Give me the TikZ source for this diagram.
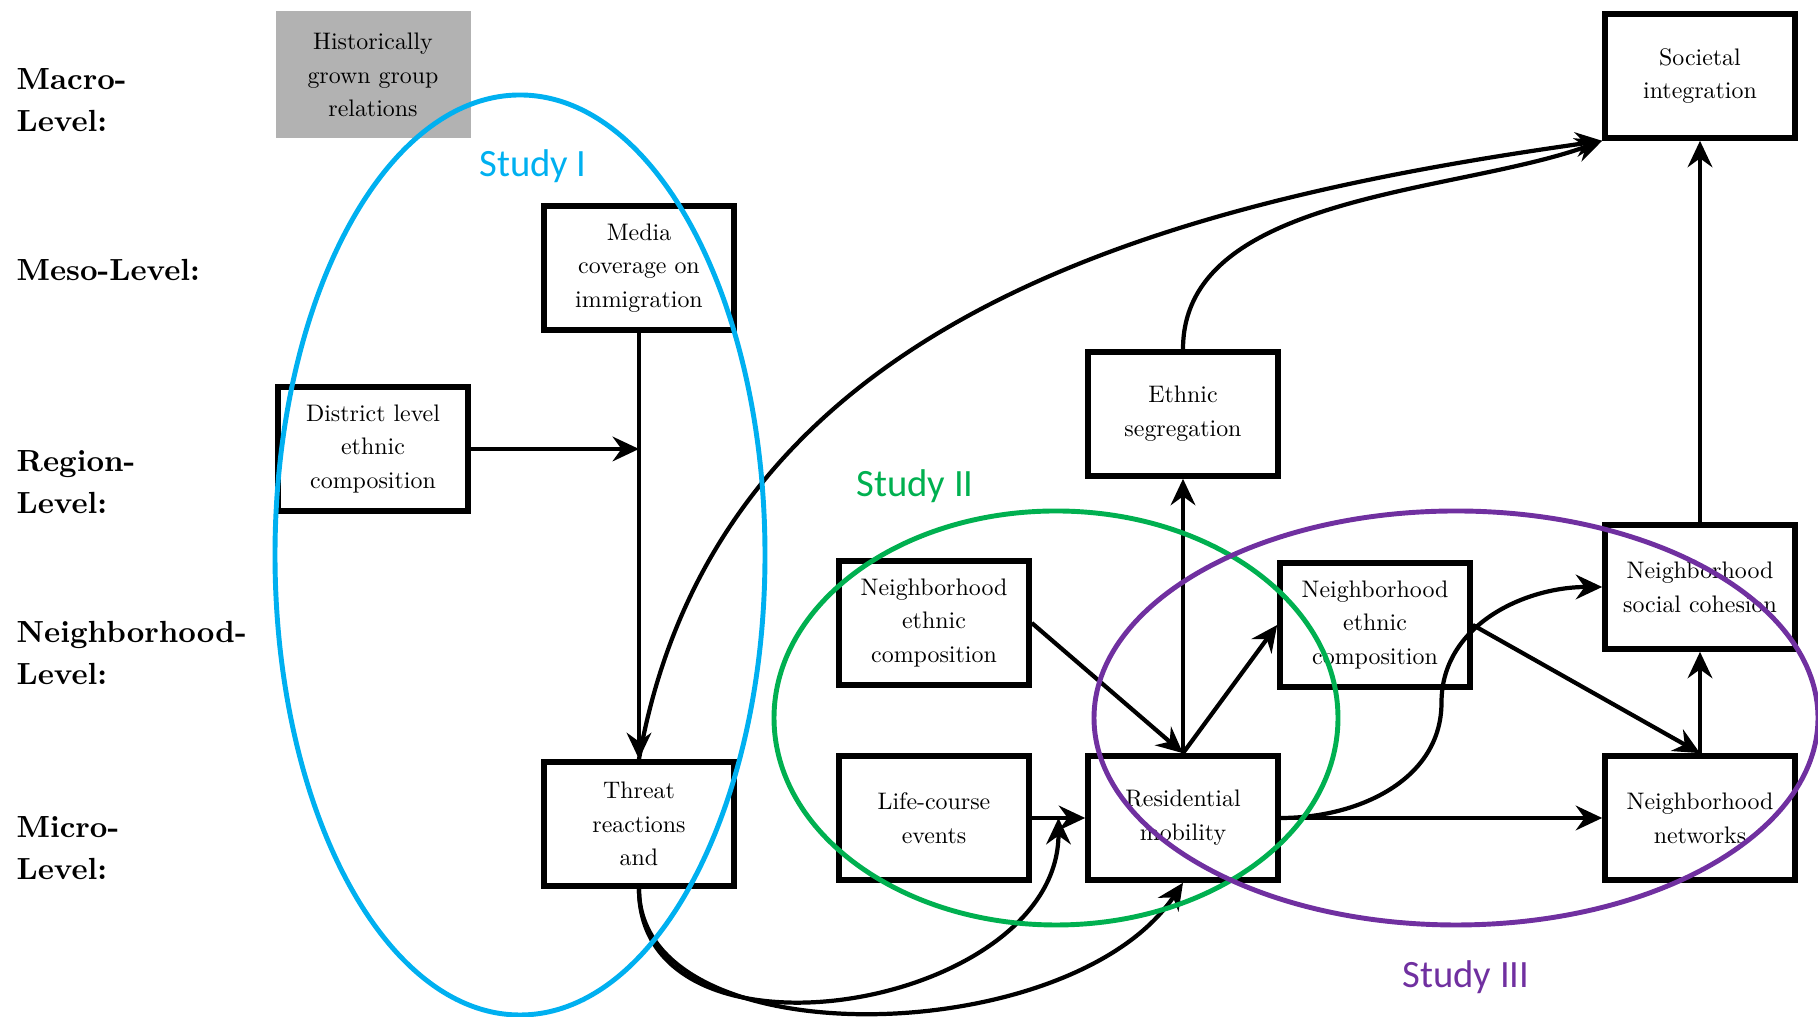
\documentclass[tikz,border=0pt]{standalone}
\usepackage{fontspec}
\newfontfamily\studyfont{Carlito}
\newfontfamily\boxfont{lmroman10-regular}[Extension=.otf]
\newfontfamily\levelfont{lmroman10-bold}[Extension=.otf]
\usetikzlibrary{arrows.meta,calc}

\definecolor{studyblue}{RGB}{0,176,240}
\definecolor{studygreen}{RGB}{0,176,80}
\definecolor{studypurple}{RGB}{112,48,160}

\begin{document}
\begin{tikzpicture}[
  box/.style={draw,line width=1.6pt,minimum width=1.9cm,minimum height=1.24cm,inner sep=1pt,align=center,font=\boxfont\fontsize{6.8}{9.6}\selectfont,execute at begin node={\rule{0pt}{6.8pt}}},
  arr/.style={-{Stealth[length=7.5pt,width=7pt,inset=2.5pt]},line width=1.2pt},
  level/.style={align=left,anchor=west,inner sep=0pt,font=\levelfont\fontsize{8.7}{11.9}\selectfont},
  study/.style={font=\studyfont\fontsize{11}{13}\selectfont}
]
\useasboundingbox (0,0) rectangle (18.18,10.17);

% the level labels
\foreach \i/\y/\lab in {1/9.17/{Macro-\\Level:},2/7.47/{Meso-Level:},3/5.35/{Region-\\Level:},4/3.64/{Neighborhood-\\Level:},5/1.69/{Micro-\\Level:}}
  \node[level] (lvl\i) at (0.16,\y) {\lab};

% the boxes
\node[box,fill=black!30,draw=none,minimum width=1.95cm,minimum height=1.27cm] (hist) at (3.73,9.42) {Historically\\grown group\\relations};
\node[box] (media) at (6.39,7.49) {Media\\coverage on\\immigration};
\node[box] (district) at (3.73,5.68) {District level\\ethnic\\composition};
\node[box] (threat) at (6.39,1.93) {Threat\\reactions\\and};
\node[box] (societal) at (17.00,9.41) {Societal\\integration};
\node[box] (ethseg) at (11.83,6.03) {Ethnic\\segregation};
\node[box] (nec1) at (9.34,3.94) {Neighborhood\\ethnic\\composition};
\node[box] (life) at (9.34,1.99) {Life-course\\events};
\node[box] (resid) at (11.83,1.99) {Residential\\mobility};
\node[box] (nec2) at (13.75,3.92) {Neighborhood\\ethnic\\composition};
\node[box] (cohesion) at (17.00,4.30) {Neighborhood\\social cohesion};
\node[box] (networks) at (17.00,1.99) {Neighborhood\\networks};

% the arrows
\draw[arr] (district) -- (district -| media);
\draw[arr] (media) -- (threat);
\draw[arr] (threat.north) to[out=80,in=188] (societal.south west);
\draw[arr] (ethseg.north) to[out=90,in=200,looseness=0.85] (societal.south west);
\draw[arr] (cohesion) -- (societal);
\draw[arr] (resid) -- (ethseg);
\draw[arr] (nec1.east) -- (resid.north);
\draw[arr] (resid.north) -- (nec2.west);
\draw[arr] (nec2.east) -- (networks.north);
\draw[arr] (networks) -- (cohesion);
\draw[arr] (life) -- (resid);
\draw[arr] (resid) -- (networks);
\draw[arr] (resid.east) to[out=0,in=-90] ($(resid.east)!.5!(cohesion.west)$) to[out=90,in=180] (cohesion.west);
\coordinate (lifemid) at ($(life.east)!.5!(resid.west)$);
\draw[arr] (threat.south) to[out=-90,in=-90,looseness=1.15] (lifemid);
\draw[arr] (threat.south) to[out=-90,in=-124,out looseness=0.8,in looseness=0.95] (resid.south);

% the studies
\draw[studyblue,line width=1.4pt] (5.20,4.62) ellipse [x radius=2.45,y radius=4.60];
\draw[studygreen,line width=1.4pt] (10.56,2.99) ellipse [x radius=2.82,y radius=2.07];
\draw[studypurple,line width=1.4pt] (14.56,2.99) ellipse [x radius=3.62,y radius=2.07];
\node[study,text=studyblue] (study1) at (5.33,8.51) {Study I};
\node[study,text=studygreen] (study2) at (9.15,5.31) {Study II};
\node[study,text=studypurple] (study3) at (14.66,0.40) {Study III};
\end{tikzpicture}
\end{document}
